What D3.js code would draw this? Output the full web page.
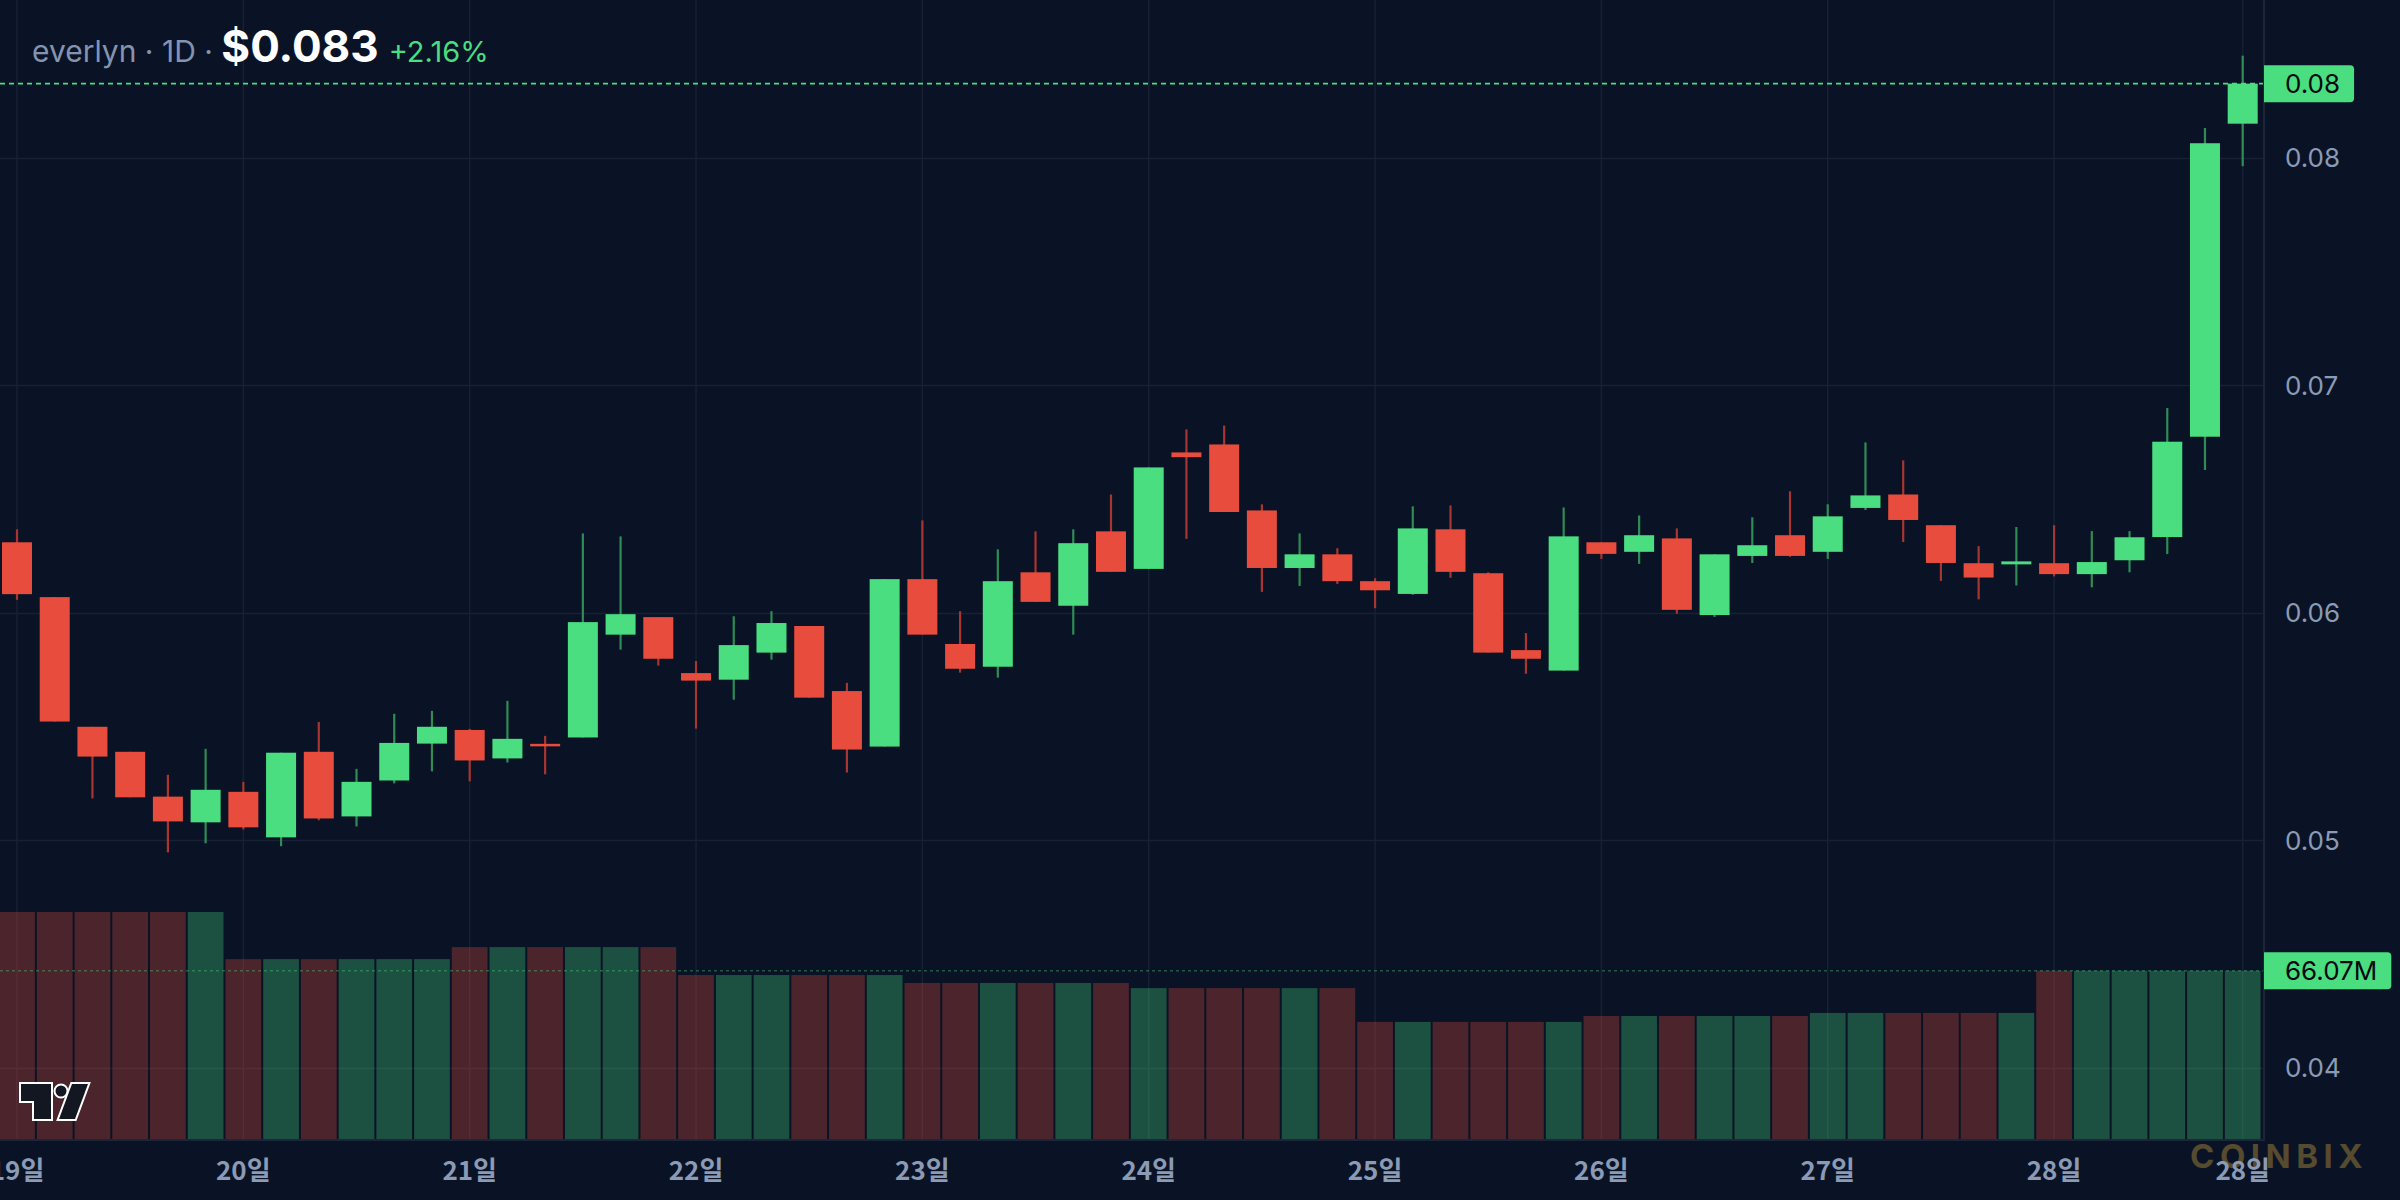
<!DOCTYPE html>
<html>
<head>
<meta charset="utf-8">
<script src="https://cdn.jsdelivr.net/npm/d3@7.9.0/dist/d3.min.js"></script>
<style>
  html, body { margin: 0; padding: 0; background: #0a1325; }
  svg { display: block; }
</style>
</head>
<body>
<svg id="chart" width="2400" height="1200"></svg>
<script>
// 4h candles, 19일 00:00 -> 28일 20:00
const opens = [
  0.06310, 0.06069, 0.05499, 0.05389, 0.05192, 0.05079, 0.05213, 0.05013, 0.05389, 0.05105,
  0.05263, 0.05425, 0.05485, 0.05360, 0.05424, 0.05452, 0.05904, 0.05981, 0.05735, 0.05706,
  0.05825, 0.05942, 0.05656, 0.05412, 0.06148, 0.05863, 0.05763, 0.06178, 0.06031, 0.06358,
  0.06193, 0.06705, 0.06740, 0.06450, 0.06197, 0.06257, 0.06139, 0.06083, 0.06367, 0.06174,
  0.05836, 0.05746, 0.06310, 0.06268, 0.06327, 0.05990, 0.06250, 0.06341, 0.06268, 0.06461,
  0.06520, 0.06385, 0.06218, 0.06213, 0.06218, 0.06170, 0.06231, 0.06333, 0.06774, 0.08150
];
const highs = [
  0.06367, 0.06069, 0.05499, 0.05389, 0.05288, 0.05402, 0.05257, 0.05385, 0.05520, 0.05314,
  0.05556, 0.05569, 0.05490, 0.05613, 0.05459, 0.06349, 0.06336, 0.05981, 0.05788, 0.05985,
  0.06007, 0.05942, 0.05692, 0.06148, 0.06406, 0.06007, 0.06279, 0.06358, 0.06367, 0.06520,
  0.06639, 0.06806, 0.06823, 0.06477, 0.06349, 0.06284, 0.06152, 0.06468, 0.06472, 0.06178,
  0.05911, 0.06463, 0.06310, 0.06428, 0.06371, 0.06257, 0.06420, 0.06534, 0.06477, 0.06749,
  0.06670, 0.06385, 0.06293, 0.06377, 0.06385, 0.06359, 0.06359, 0.06900, 0.08131, 0.08449
];
const lows = [
  0.06057, 0.05522, 0.05184, 0.05189, 0.04947, 0.04987, 0.05048, 0.04974, 0.05088, 0.05061,
  0.05250, 0.05303, 0.05259, 0.05342, 0.05290, 0.05452, 0.05838, 0.05768, 0.05491, 0.05618,
  0.05794, 0.05627, 0.05298, 0.05412, 0.05904, 0.05737, 0.05715, 0.06048, 0.05904, 0.06180,
  0.06193, 0.06325, 0.06443, 0.06092, 0.06118, 0.06127, 0.06020, 0.06079, 0.06154, 0.05825,
  0.05732, 0.05746, 0.06237, 0.06215, 0.05996, 0.05982, 0.06219, 0.06246, 0.06237, 0.06452,
  0.06311, 0.06140, 0.06059, 0.06120, 0.06160, 0.06112, 0.06178, 0.06258, 0.06628, 0.07963
];
const closes = [
  0.06082, 0.05522, 0.05368, 0.05189, 0.05083, 0.05222, 0.05057, 0.05385, 0.05096, 0.05257,
  0.05428, 0.05499, 0.05351, 0.05446, 0.05415, 0.05959, 0.05994, 0.05798, 0.05702, 0.05858,
  0.05955, 0.05627, 0.05399, 0.06148, 0.05904, 0.05754, 0.06139, 0.06048, 0.06306, 0.06180,
  0.06639, 0.06684, 0.06443, 0.06197, 0.06257, 0.06139, 0.06099, 0.06371, 0.06180, 0.05825,
  0.05798, 0.06336, 0.06259, 0.06341, 0.06013, 0.06257, 0.06297, 0.06250, 0.06424, 0.06516,
  0.06408, 0.06219, 0.06155, 0.06226, 0.06170, 0.06223, 0.06332, 0.06752, 0.08064, 0.08326
];
// volume per day (millions), shown on each of that day's six candles
const dailyVolumes = [89.0, 70.6, 75.3, 64.4, 61.3, 59.3, 46.1, 48.4, 49.6, 66.07];
const candlesPerDay = 6;

const tickLabels = ['19일', '20일', '21일', '22일', '23일', '24일', '25일', '26일', '27일', '28일', '28일'];
const tickCandles = [0, 6, 12, 18, 24, 30, 36, 42, 48, 54, 59];
const priceTicks = [0.04, 0.05, 0.06, 0.07, 0.08];

const symbol = 'everlyn';
const interval = '1D';

const up = '#4ade80', down = '#e74c3c';
const upWick = '#2f8c55', downWick = '#a8352f';
const bg = '#0a1325';
const gridColor = '#172134';
const axisText = '#8b9bb5';

const W = 2400, H = 1200;
const plotRight = 2264, plotBottom = 1140;

const svg = d3.select('#chart');
svg.append('rect').attr('width', W).attr('height', H).attr('fill', bg);

const n = closes.length;
const x = d3.scaleLinear().domain([0, n - 1]).range([17, 2242.7]);
const step = x(1) - x(0);
const y = d3.scaleLinear().domain([0.04, 0.08]).range([1067.8, 157.8]);
const yVol = d3.scaleLinear().domain([0, d3.max(dailyVolumes)]).range([plotBottom, plotBottom * 0.8]);

const candles = d3.range(n).map(i => ({
  i, o: opens[i], h: highs[i], l: lows[i], c: closes[i],
  v: dailyVolumes[Math.floor(i / candlesPerDay)]
}));

// Grid
svg.append('g')
  .selectAll('line')
  .data(priceTicks)
  .join('line')
  .attr('x1', 0).attr('x2', plotRight)
  .attr('y1', d => Math.round(y(d)) + 0.5).attr('y2', d => Math.round(y(d)) + 0.5)
  .attr('stroke', gridColor).attr('stroke-width', 1.5);

svg.append('g')
  .selectAll('line')
  .data(tickCandles)
  .join('line')
  .attr('x1', d => x(d)).attr('x2', d => x(d))
  .attr('y1', 0).attr('y2', plotBottom)
  .attr('stroke', gridColor).attr('stroke-width', 1.5);

// Volume
svg.append('g')
  .selectAll('rect')
  .data(candles)
  .join('rect')
  .attr('x', d => x(d.i) - step / 2 + 1)
  .attr('width', step - 2)
  .attr('y', d => yVol(d.v))
  .attr('height', d => plotBottom - yVol(d.v))
  .attr('fill', d => d.c >= d.o ? up : down)
  .attr('fill-opacity', 0.3);

// Candles: wicks then bodies
const bodyW = 30;
svg.append('g')
  .selectAll('line')
  .data(candles)
  .join('line')
  .attr('x1', d => x(d.i)).attr('x2', d => x(d.i))
  .attr('y1', d => y(d.h)).attr('y2', d => y(d.l))
  .attr('stroke', d => d.c >= d.o ? upWick : downWick)
  .attr('stroke-width', 2.2);

svg.append('g')
  .selectAll('rect')
  .data(candles)
  .join('rect')
  .attr('x', d => x(d.i) - bodyW / 2)
  .attr('width', bodyW)
  .attr('y', d => y(Math.max(d.o, d.c)))
  .attr('height', d => Math.max(2.5, Math.abs(y(d.o) - y(d.c))))
  .attr('fill', d => d.c >= d.o ? up : down);

// Last price / last volume lines
const last = candles[n - 1];
svg.append('line')
  .attr('x1', 0).attr('x2', plotRight)
  .attr('y1', y(last.c)).attr('y2', y(last.c))
  .attr('stroke', up).attr('stroke-width', 1.6)
  .attr('stroke-dasharray', '5,4');

svg.append('line')
  .attr('x1', 0).attr('x2', plotRight)
  .attr('y1', yVol(last.v)).attr('y2', yVol(last.v))
  .attr('stroke', up).attr('stroke-opacity', 0.35).attr('stroke-width', 1.6)
  .attr('stroke-dasharray', '3,3');

// Borders
svg.append('line')
  .attr('x1', plotRight).attr('x2', plotRight)
  .attr('y1', 0).attr('y2', plotBottom + 1)
  .attr('stroke', '#1c2639').attr('stroke-width', 2);
svg.append('line')
  .attr('x1', 0).attr('x2', plotRight + 1)
  .attr('y1', plotBottom).attr('y2', plotBottom)
  .attr('stroke', '#1c2639').attr('stroke-width', 2);

// Price axis labels
svg.append('g')
  .selectAll('text')
  .data(priceTicks)
  .join('text')
  .attr('x', 2285)
  .attr('y', d => y(d))
  .attr('dy', '0.36em')
  .attr('fill', axisText)
  .attr('font-family', 'Inter, "Noto Sans", sans-serif')
  .attr('font-size', 26)
  .text(d => d3.format('.2f')(d));

// Label boxes on the axis
function axisBadge(cy, label) {
  const g = svg.append('g');
  const t = g.append('text')
    .attr('x', 2285).attr('y', cy).attr('dy', '0.36em')
    .attr('fill', '#05080f')
    .attr('font-family', 'Inter, "Noto Sans", sans-serif')
    .attr('font-size', 26)
    .text(label);
  const x0 = plotRight, x1 = 2285 + t.node().getComputedTextLength() + 14;
  const y0 = cy - 18.5, y1 = cy + 18.5, r = 4;
  g.insert('path', 'text')
    .attr('d', `M${x0},${y0}H${x1 - r}Q${x1},${y0} ${x1},${y0 + r}V${y1 - r}Q${x1},${y1} ${x1 - r},${y1}H${x0}Z`)
    .attr('fill', up);
}
axisBadge(y(last.c), d3.format('.2f')(last.c));
axisBadge(yVol(last.v), `${last.v.toFixed(2)}M`);

// Watermark
svg.append('text')
  .attr('x', 2190).attr('y', 1168)
  .attr('fill', '#564a2f')
  .attr('font-family', 'Inter, "Noto Sans", sans-serif')
  .attr('font-weight', 700)
  .attr('font-size', 33)
  .attr('letter-spacing', 5.5)
  .text('COINBIX');

// Time axis labels
svg.append('g')
  .selectAll('text')
  .data(tickCandles)
  .join('text')
  .attr('x', d => x(d))
  .attr('y', 1180)
  .attr('text-anchor', 'middle')
  .attr('fill', axisText)
  .attr('font-family', '"Noto Sans CJK KR", sans-serif')
  .attr('font-weight', 700)
  .attr('font-size', 26)
  .text((d, i) => tickLabels[i]);

// Header
const pct = (last.c - last.o) / last.o;
const header = svg.append('text')
  .attr('x', 32).attr('y', 62)
  .attr('font-family', 'Inter, "Noto Sans", sans-serif');
header.append('tspan')
  .attr('fill', '#8494b0').attr('font-size', 30)
  .text(`${symbol} · ${interval} · `);
header.append('tspan')
  .attr('fill', '#ffffff').attr('font-size', 44).attr('font-weight', 700)
  .text(`$${d3.format('.3f')(last.c)}`);
header.append('tspan')
  .attr('fill', up).attr('font-size', 29).attr('dx', 10)
  .text(`${pct >= 0 ? '+' : ''}${(pct * 100).toFixed(2)}%`);

// TradingView logo
const logo = svg.append('g')
  .attr('transform', 'translate(20,1082)')
  .attr('fill', '#131722').attr('stroke', '#ffffff').attr('stroke-width', 4)
  .attr('stroke-linejoin', 'miter').attr('paint-order', 'stroke');
logo.append('path').attr('d', 'M1,2H31V37H14V19H1Z');
logo.append('circle').attr('cx', 41).attr('cy', 9).attr('r', 5.5);
logo.append('path').attr('d', 'M52,2H68L55,37H39Z');
</script>
</body>
</html>
